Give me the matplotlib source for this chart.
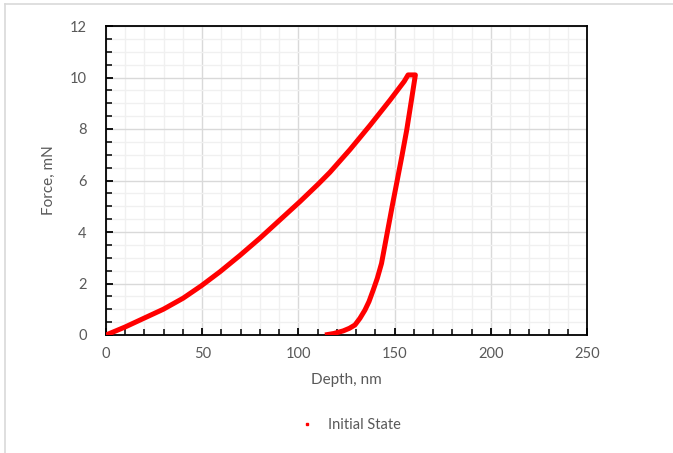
import matplotlib.pyplot as plt
from matplotlib.ticker import MultipleLocator
from matplotlib.lines import Line2D

# loading branch
load_depth = [0, 9.9, 19.4, 29.8, 40.1, 49.7, 59.3, 69.6, 80.0, 90.4, 100.8,
              110.3, 116.4, 126.8, 137.2, 147.6, 155.0, 157.0]
load_force = [0, 0.31, 0.64, 1.0, 1.43, 1.92, 2.46, 3.09, 3.76, 4.47, 5.18,
              5.86, 6.32, 7.2, 8.14, 9.12, 9.85, 10.1]
# hold + unloading branch
unload_depth = [157.0, 160.8, 158.5, 156.3, 153.8, 151.4, 149.0, 146.5, 143.2,
                141.0, 138.9, 136.7, 134.6, 132.0, 129.4, 126.5, 123.3, 118.5, 113.8]
unload_force = [10.1, 10.1, 9.0, 7.96, 6.95, 6.02, 5.1, 4.1, 2.78,
                2.2, 1.75, 1.3, 0.97, 0.65, 0.39, 0.26, 0.16, 0.06, 0.0]

depth = load_depth + unload_depth
force = load_force + unload_force

grey = "#595959"
plt.rcParams["font.family"] = ["Lato", "DejaVu Sans"]

fig = plt.figure(figsize=(6.73, 4.53), dpi=100)
ax = fig.add_axes([106 / 673, 1 - 335 / 453, 481 / 673, 309 / 453])

ax.plot(depth, force, color="#ff0000", lw=3.6, solid_joinstyle="round",
        solid_capstyle="butt", zorder=3)

ax.set_xlim(0, 250)
ax.set_ylim(0, 12)
ax.xaxis.set_major_locator(MultipleLocator(50))
ax.xaxis.set_minor_locator(MultipleLocator(10))
ax.yaxis.set_major_locator(MultipleLocator(2))
ax.yaxis.set_minor_locator(MultipleLocator(0.5))

ax.grid(which="major", color="#d9d9d9", lw=1.0, zorder=0)
ax.grid(which="minor", color="#f0f0f0", lw=1.0, zorder=0)
ax.set_axisbelow(True)

for s in ax.spines.values():
    s.set_color("black")
    s.set_linewidth(1.3)

ax.tick_params(which="major", direction="in", length=5, width=1.3,
               color="black", labelcolor=grey, labelsize=10.5)
ax.tick_params(which="minor", direction="in", length=4, width=1.1, color="black")
ax.tick_params(axis="x", which="major", pad=9)
ax.tick_params(axis="y", which="major", pad=14)

ax.set_xlabel("Depth, nm", color=grey, fontsize=11, labelpad=8)
ax.set_ylabel("Force, mN", color=grey, fontsize=11, labelpad=10)

handle = Line2D([], [], color="#ff0000", marker="s", markersize=2, lw=0)
fig.legend([handle], ["Initial State"], loc="center", bbox_to_anchor=(0.515, 1 - 425 / 453),
           frameon=False, fontsize=10.5, labelcolor=grey, handletextpad=0.5)

# chart-area border (only top and left visible in the crop)
fig.add_artist(Line2D([5 / 673, 5 / 673], [0, 1 - 4 / 453], color="#d9d9d9", lw=1.2,
                      transform=fig.transFigure))
fig.add_artist(Line2D([5 / 673, 1], [1 - 4 / 453, 1 - 4 / 453], color="#d9d9d9", lw=1.2,
                      transform=fig.transFigure))

fig.savefig("out.png", dpi=100)
